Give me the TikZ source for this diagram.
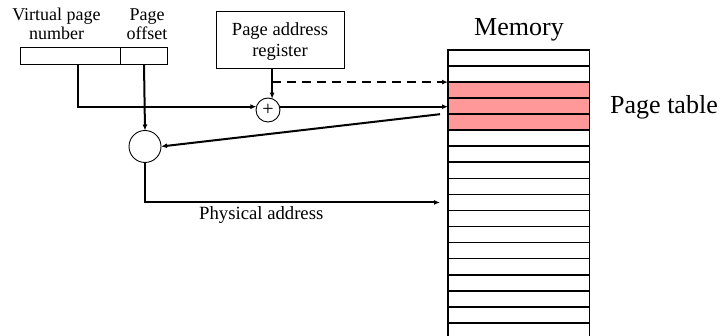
\documentclass[tikz,border=0pt]{standalone}
\usepackage{fontspec}
\setmainfont{Liberation Serif}
\usetikzlibrary{arrows.meta,calc}
\begin{document}
\begin{tikzpicture}[x=1pt,y=-1pt,
  wire/.style={line width=2pt},
  tip/.style={-{Latex[length=6pt,width=5pt]}},
  box/.style={draw,line width=0.9pt,inner sep=0pt,outer sep=0pt},
  cell/.style={draw,line width=1.7pt,minimum width=141.6pt,minimum height=16.05pt,inner sep=0pt,outer sep=0pt},
  ptfill/.style={fill=pagepink},
  smalltxt/.style={font=\fontsize{18}{19}\selectfont,align=center,inner sep=0pt},
  bigtxt/.style={font=\fontsize{26}{30}\selectfont,inner sep=0pt},
  adder/.style={circle,draw,line width=0.9pt,inner sep=0pt,outer sep=0pt}
]
\definecolor{pagepink}{RGB}{255,153,153}
\useasboundingbox (0,0) rectangle (722,336);

% memory column: 18 rows, three of them hold the page table
\foreach \i in {0,...,17}{
  \ifnum\i>1 \ifnum\i<5
    \node[cell,ptfill,anchor=north west] (r\i) at (448,{50+16.05*\i}) {};
  \else
    \node[cell,anchor=north west] (r\i) at (448,{50+16.05*\i}) {};
  \fi\else
    \node[cell,anchor=north west] (r\i) at (448,{50+16.05*\i}) {};
  \fi
}
\node[bigtxt,anchor=base] (memlbl) at (519,36) {Memory};
\node[bigtxt,anchor=base west] (ptlbl) at (610,113.3) {Page table};

% virtual address fields
\node[box,minimum width=100.3pt,minimum height=16.6pt,anchor=north west] (vpn) at (20,47.7) {};
\node[box,minimum width=47.4pt,minimum height=16.6pt,anchor=north west] (off) at (vpn.north east) {};
\node[smalltxt,anchor=base] (vpnlbl) at (56.5,40) {Virtual page\\number};
\node[smalltxt,anchor=base] (offlbl) at (147,40) {Page\\offset};

% page address register
\node[box,minimum width=128pt,minimum height=57pt,anchor=north west] (par) at (216,11) {};
\node[smalltxt,font=\fontsize{18.5}{21.5}\selectfont,anchor=base] (parlbl) at (280,56.7) {Page address\\register};

% adder and combiner
\node[adder,minimum size=24pt] (plus) at (268,110) {\fontsize{20}{20}\selectfont +};
\node[adder,minimum size=32pt] (comb) at (145,146.5) {};

% connectors
\draw[wire,tip] ([xshift=8pt]vpn.south) |- (plus.164);
\draw[wire,tip] (par.south -| plus.70) -- (plus.70);
\draw[wire,dashed,dash pattern=on 9pt off 6pt,tip] (r2.north west -| plus.70) -- (r2.north west);
\draw[wire,tip] (plus.16) -- (plus.16 -| r3.west);
\coordinate (tap) at ($(r4.north west)+(-8,0)$);
\draw[wire,tip] (tap) -- (comb.east);
\draw[wire,tip] (off.south) -- (comb.north);
\coordinate (pa) at ($(r9.west)+(-8,0)$);
\draw[wire,tip] (comb.south) |- (pa);
\node[smalltxt,font=\fontsize{18.7}{20}\selectfont,anchor=base west] (palbl) at (199,220) {Physical address};
\end{tikzpicture}
\end{document}
